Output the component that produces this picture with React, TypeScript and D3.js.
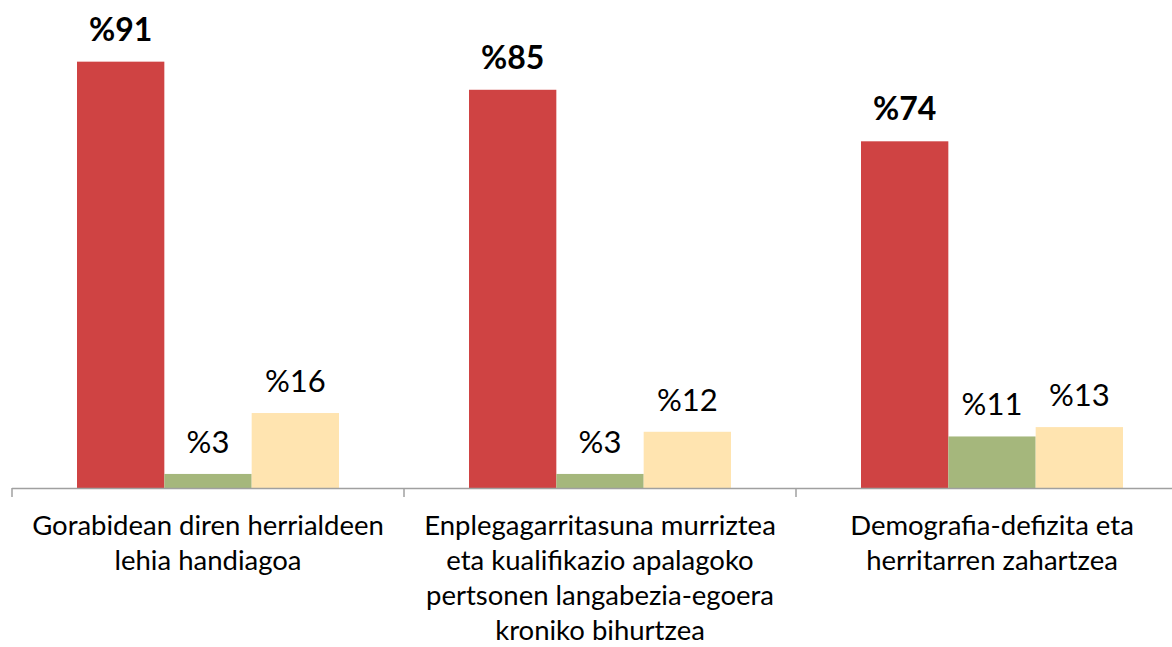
import React from 'react'
import * as d3 from 'd3'

const categories = ['Gorabidean', 'Enplegagarritasuna', 'Demografia']
const categoryLines = [
  ['Gorabidean diren herrialdeen', 'lehia handiagoa'],
  ['Enplegagarritasuna murriztea', 'eta kualifikazio apalagoko', 'pertsonen langabezia-egoera', 'kroniko bihurtzea'],
  ['Demografia-defizita eta', 'herritarren zahartzea'],
]
const series = ['a', 'b', 'c']
const seriesA = [91, 85, 74]
const seriesB = [3, 3, 11]
const seriesC = [16, 12, 13]

const COLORS = { a: '#CF4343', b: '#A5B77C', c: '#FFE4B0' }
const FONT = 'Lato, sans-serif'

const W = 1172
const H = 647

export default function App() {
  const x = d3.scaleBand<string>().domain(categories).range([12, 1188]).paddingInner(0).paddingOuter(0)
  const xs = d3.scaleBand<string>().domain(series).range([65, x.bandwidth() - 65])
  const y = d3.scaleLinear().domain([0, 100]).range([488, 19.5])
  const values: Record<string, number[]> = { a: seriesA, b: seriesB, c: seriesC }
  const ticks = [...categories.map(c => x(c)!), 1188]

  return (
    <svg width={W} height={H} style={{ position: 'absolute', left: 0, top: 0, background: '#fff' }}>
      {categories.map((cat, i) => (
        <g key={cat} transform={`translate(${x(cat)},0)`}>
          {series.map(s => {
            const v = values[s][i]
            const bx = xs(s)!
            return (
              <g key={s}>
                <rect x={bx} y={y(v)} width={xs.bandwidth()} height={y(0) - y(v)} fill={COLORS[s as keyof typeof COLORS]} />
                <text
                  x={bx + xs.bandwidth() / 2}
                  y={y(v) - 21}
                  textAnchor="middle"
                  fontFamily={FONT}
                  fontSize={s === 'a' ? 32 : 31}
                  fontWeight={s === 'a' ? 700 : 400}
                  fill="#000"
                >%{v}</text>
              </g>
            )
          })}
          {categoryLines[i].map((line, j) => (
            <text
              key={j}
              x={x.bandwidth() / 2}
              y={535 + j * 35}
              textAnchor="middle"
              fontFamily={FONT}
              fontSize={27.5}
              fill="#000"
            >{line}</text>
          ))}
        </g>
      ))}
      <line x1={12} x2={1188} y1={488.5} y2={488.5} stroke="#A0A0A0" strokeWidth={1.5} />
      {ticks.map((t, i) => (
        <line key={i} x1={t} x2={t} y1={488} y2={497} stroke="#A0A0A0" strokeWidth={1.5} />
      ))}
    </svg>
  )
}
